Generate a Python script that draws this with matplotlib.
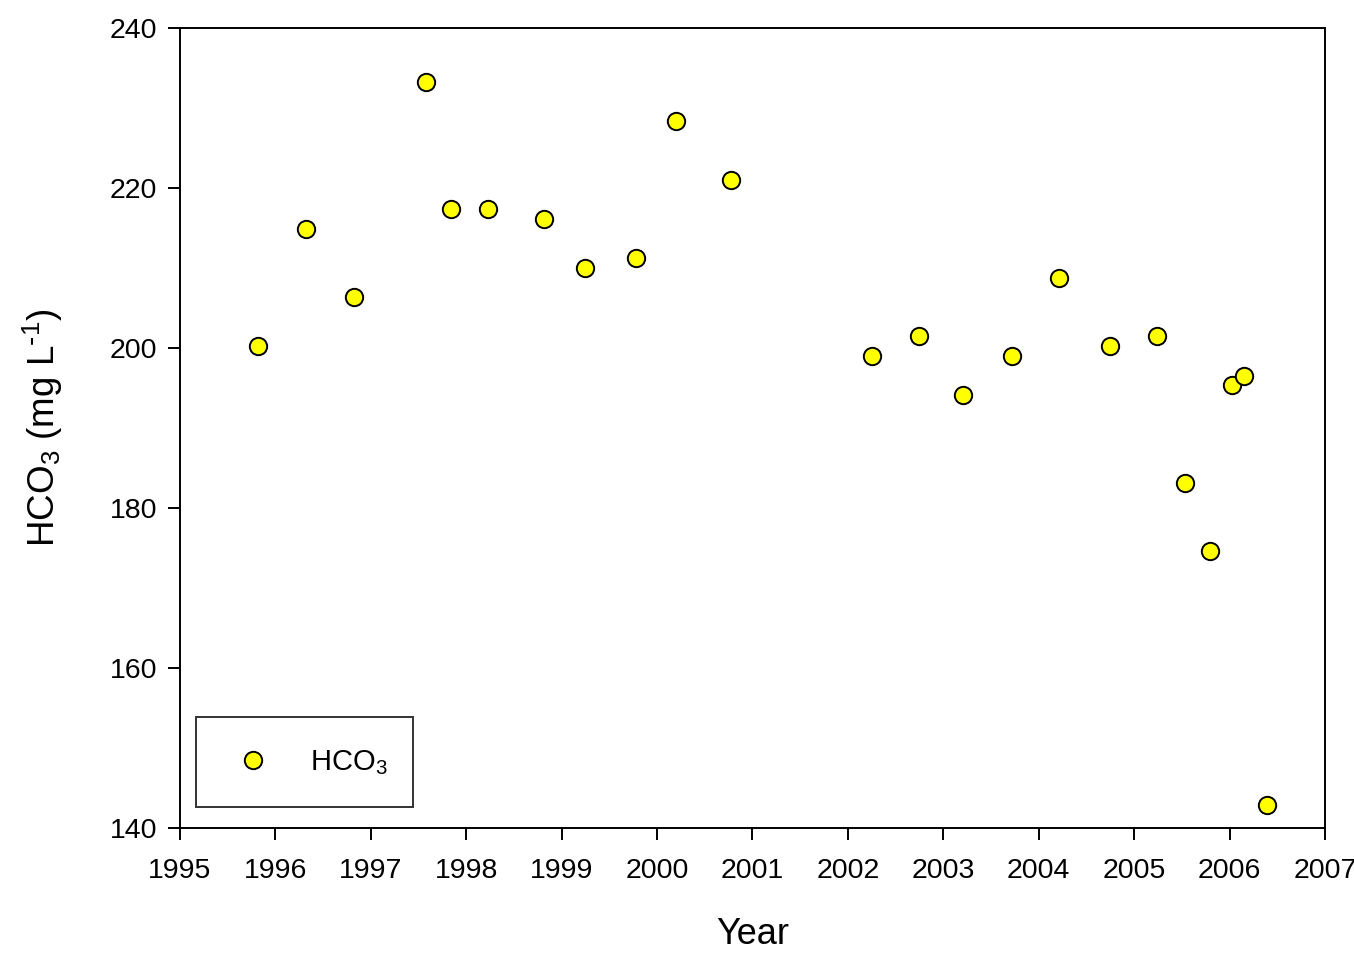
import numpy as np
import matplotlib.pyplot as plt

# DATA
year = [1995.82, 1996.32, 1996.82, 1997.58, 1997.84, 1998.23, 1998.82, 1999.25,
        1999.78, 2000.20, 2000.77, 2002.25, 2002.74, 2003.21, 2003.72, 2004.21,
        2004.75, 2005.24, 2005.53, 2005.79, 2006.03, 2006.15, 2006.39]
hco3 = [200.2, 214.9, 206.4, 233.2, 217.4, 217.4, 216.1, 210.0,
        211.2, 228.4, 221.0, 199.0, 201.5, 194.1, 199.0, 208.7,
        200.2, 201.5, 183.1, 174.6, 195.4, 196.5, 142.9]
xticks = np.arange(1995, 2008, 1)
yticks = np.arange(140, 241, 20)

plt.rcParams['font.family'] = ['Liberation Sans', 'DejaVu Sans']
plt.rcParams['mathtext.default'] = 'regular'

# PLOT
fig = plt.figure(figsize=(13.54, 9.55), dpi=100)
ax = fig.add_axes([0.1329, 0.1330, 0.8457, 0.8377])
ax.plot(year, hco3, linestyle="none", marker="o", markersize=12.5,
        markerfacecolor="#ffff00", markeredgecolor="black", markeredgewidth=1.4,
        label="HCO$_3$")
ax.set_xlim(1995, 2007)
ax.set_ylim(140, 240)
ax.set_xticks(xticks)
ax.set_yticks(yticks)
ax.tick_params(direction="out", length=8.5, width=1.4, labelsize=20.5)
ax.tick_params(axis="x", pad=13)
ax.tick_params(axis="y", pad=8)
for s in ax.spines.values():
    s.set_linewidth(1.4)
ax.set_xlabel("Year", fontsize=26, labelpad=24)
ax.set_ylabel("HCO$_3$ (mg L$^{\\text{-}1}$)", fontsize=26.5, labelpad=32)

leg = ax.legend(loc="lower left", bbox_to_anchor=(0.014, 0.026, 0.1895, 0.1),
                mode="expand", fontsize=21,
                frameon=True, fancybox=False, edgecolor="black",
                borderpad=1.05, handletextpad=1.05, borderaxespad=0,
                markerscale=1.0, handlelength=1.8)
leg.get_frame().set_linewidth(1.4)

plt.savefig("out.png", dpi=100)
